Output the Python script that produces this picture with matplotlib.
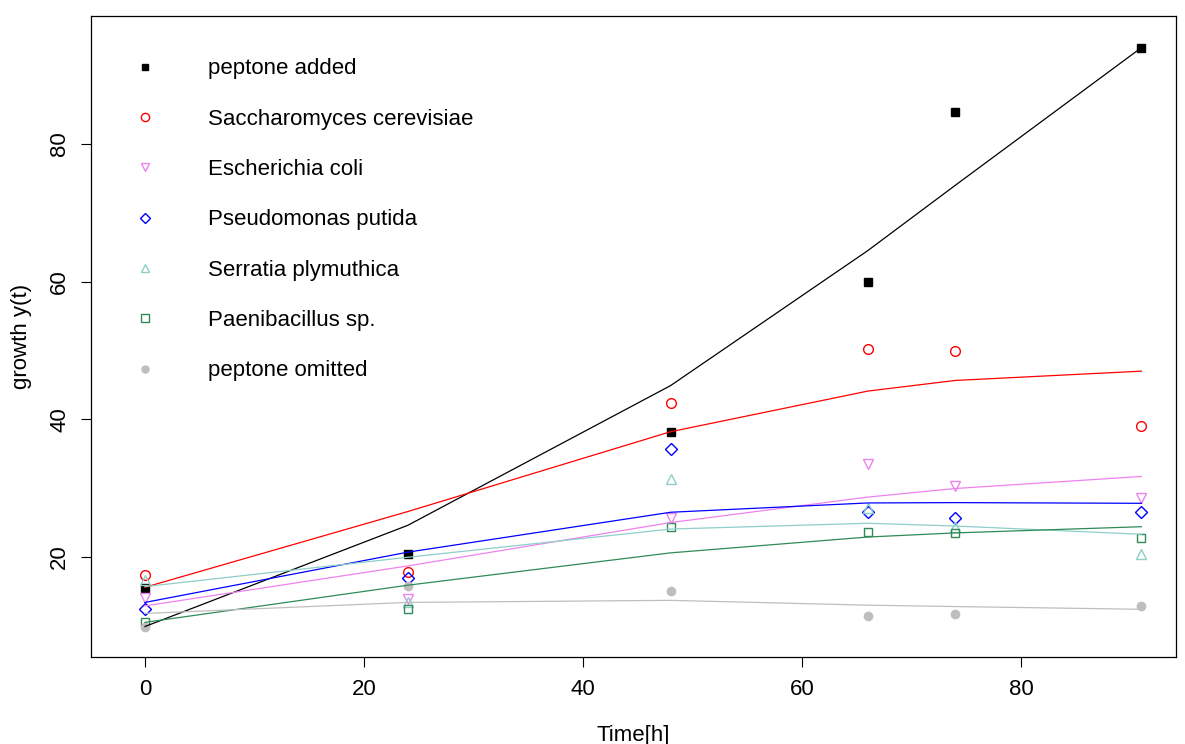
import matplotlib
matplotlib.use("Agg")
import matplotlib.pyplot as plt
from matplotlib.lines import Line2D

plt.rcParams['font.family'] = ['Liberation Sans', 'DejaVu Sans']

# sampling times in hours
time = [0, 24, 48, 66, 74, 91]

names = ["peptone added", "Saccharomyces cerevisiae", "Escherichia coli",
         "Pseudomonas putida", "Serratia plymuthica", "Paenibacillus sp.",
         "peptone omitted"]

# measured growth
obs_added = [15.5, 20.4, 38.1, 60.0, 84.7, 94.0]
obs_sacch = [17.4, 17.8, 42.4, 50.2, 49.9, 39.1]
obs_ecoli = [14.1, 13.9, 25.7, 33.5, 30.3, 28.5]
obs_pseudo = [12.5, 17.0, 35.75, 26.6, 25.65, 26.6]
obs_serr = [16.7, 13.5, 31.4, 27.1, 24.3, 20.4]
obs_paeni = [10.6, 12.5, 24.4, 23.6, 23.5, 22.7]
obs_omit = [9.9, 15.8, 15.0, 11.45, 11.7, 12.9]

# fitted model curves
fit_added = [9.9, 24.6, 44.9, 64.5, 74.0, 94.0]
fit_sacch = [15.6, 26.6, 38.2, 44.1, 45.65, 47.0]
fit_ecoli = [12.9, 18.7, 25.0, 28.7, 29.95, 31.7]
fit_pseudo = [13.4, 20.7, 26.5, 27.85, 27.9, 27.8]
fit_serr = [15.7, 19.96, 24.06, 24.9, 24.5, 23.3]
fit_paeni = [10.5, 15.9, 20.6, 22.9, 23.5, 24.4]
fit_omit = [11.8, 13.4, 13.7, 13.0, 12.8, 12.4]

obs = [obs_added, obs_sacch, obs_ecoli, obs_pseudo, obs_serr, obs_paeni, obs_omit]
fits = [fit_added, fit_sacch, fit_ecoli, fit_pseudo, fit_serr, fit_paeni, fit_omit]

cols = ["black", "red", "#EE82EE", "blue", "#8ECFC9", "#2E8B57", "#BEBEBE"]
marks = ["s", "o", "v", "D", "^", "s", "o"]
filled = [True, False, False, False, False, False, True]
msize = [5.5, 7, 7.5, 6, 7.5, 6, 6]

fig = plt.figure(figsize=(11.85, 7.44), dpi=100)
ax = fig.add_axes([91/1185, 87/744, 1085/1185, 641/744])

handles = []
for i in range(len(names)):
    fc = cols[i] if filled[i] else "none"
    ax.plot(time, obs[i], linestyle="none", marker=marks[i], ms=msize[i],
            mfc=fc, mec=cols[i], mew=1, zorder=2)
    ax.plot(time, fits[i], color=cols[i], lw=0.9, zorder=3)
    handles.append(Line2D([], [], linestyle="none", marker=marks[i], ms=msize[i]*0.85,
                          mfc=fc, mec=cols[i], mew=1))

ax.set_xlim(-4.93, 94.16)
ax.set_ylim(5.47, 98.6)
ax.set_xticks([0, 20, 40, 60, 80])
ax.set_yticks([20, 40, 60, 80])
ax.tick_params(direction="out", length=7, width=0.8, labelsize=16, pad=9)
ax.tick_params(axis="y", pad=8)
for lab in ax.get_yticklabels():
    lab.set_rotation(90)
    lab.set_va("center")
for s in ax.spines.values():
    s.set_linewidth(0.9)

ax.set_xlabel("Time[h]", fontsize=16, labelpad=18)
ax.set_ylabel("growth y(t)", fontsize=16, labelpad=12)

ax.legend(handles, names, loc="upper left", bbox_to_anchor=(0.029, 0.934),
          frameon=False, fontsize=16, borderaxespad=0, borderpad=0,
          handlelength=2, handletextpad=1.84, labelspacing=1.32)

fig.savefig("out.png", dpi=100)
